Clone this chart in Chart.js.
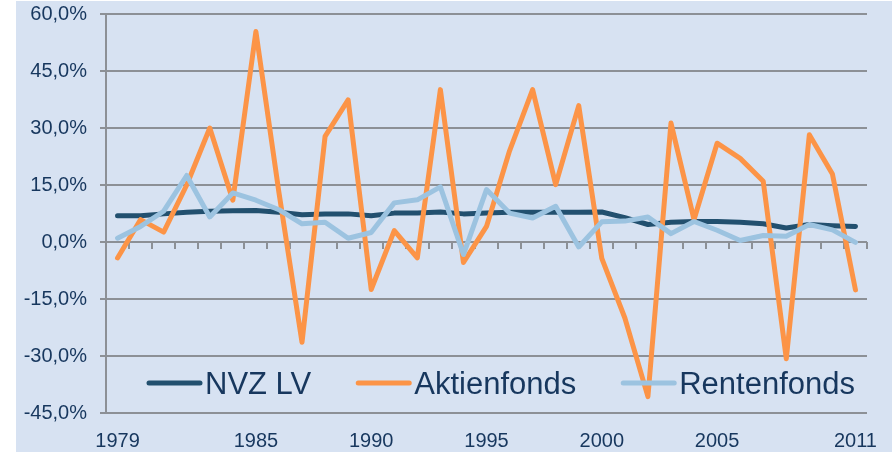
<!DOCTYPE html>
<html>
<head>
<meta charset="utf-8">
<script src="https://cdn.jsdelivr.net/npm/chart.js@4.4.1/dist/chart.umd.min.js"></script>
<style>
  html, body { margin: 0; padding: 0; background: #ffffff; }
  #wrap { width: 892px; height: 452px; }
</style>
</head>
<body>
<div id="wrap"><canvas id="myChart" width="892" height="452"></canvas></div>
<script>
const years = [1979, 1980, 1981, 1982, 1983, 1984, 1985, 1986, 1987, 1988, 1989,
               1990, 1991, 1992, 1993, 1994, 1995, 1996, 1997, 1998, 1999, 2000,
               2001, 2002, 2003, 2004, 2005, 2006, 2007, 2008, 2009, 2010, 2011];
const shownYears = [1979, 1985, 1990, 1995, 2000, 2005, 2011];

const nvzLV = [6.9, 6.9, 7.4, 7.8, 8.1, 8.2, 8.3, 7.8, 7.2, 7.4, 7.4,
               6.9, 7.6, 7.6, 7.9, 7.4, 7.6, 7.8, 7.8, 7.8, 7.8, 7.9,
               6.4, 4.6, 5.2, 5.4, 5.4, 5.2, 4.8, 3.7, 4.6, 4.3, 4.1];
const aktienfonds = [-4.2, 5.9, 2.6, 15.0, 30.0, 11.0, 55.4, 13.0, -26.4, 27.8, 37.4,
                     -12.5, 3.0, -4.2, 40.1, -5.4, 4.1, 24.0, 40.1, 15.1, 35.9, -4.3,
                     -20.0, -40.7, 31.3, 5.9, 26.0, 22.0, 16.0, -30.7, 28.2, 17.9, -12.6];
const rentenfonds = [1.0, 4.1, 8.1, 17.5, 6.6, 12.9, 11.0, 8.5, 4.8, 5.2, 1.0,
                     2.5, 10.3, 11.1, 14.5, -3.3, 13.8, 7.6, 6.3, 9.4, -1.3, 5.3,
                     5.5, 6.6, 2.2, 5.4, 3.1, 0.4, 1.7, 1.5, 4.6, 3.2, -0.1];

const yTicks = { min: -45, max: 60, step: 15 };

const fontFamily = "'Liberation Sans', Arial, sans-serif";
const textColor = '#17375E';
const gridColor = '#8C9096';

function formatPercent(v) {
    return v.toFixed(1).replace('.', ',') + '%';
}

const backgroundPlugin = {
    id: 'background',
    beforeDraw(chart) {
        const ctx = chart.ctx;
        ctx.save();
        ctx.fillStyle = '#D7E2F2';
        ctx.fillRect(16, 1, chart.width - 16, chart.height - 1);
        ctx.restore();
    }
};

// kleine Striche an der Nulllinie zwischen den Jahren
const zeroTicksPlugin = {
    id: 'zeroTicks',
    beforeDatasetsDraw(chart) {
        const xs = chart.scales.x;
        const ys = chart.scales.y;
        const y0 = ys.getPixelForValue(0);
        const step = (xs.right - xs.left) / years.length;
        const ctx = chart.ctx;
        ctx.save();
        ctx.strokeStyle = gridColor;
        ctx.lineWidth = 2;
        ctx.beginPath();
        for (let i = 0; i <= years.length; i++) {
            const px = Math.round(xs.left + i * step);
            ctx.moveTo(px, y0);
            ctx.lineTo(px, y0 + 7);
        }
        ctx.stroke();
        ctx.restore();
    }
};

const insideLegendPlugin = {
    id: 'insideLegend',
    afterDraw(chart) {
        const ctx = chart.ctx;
        const area = chart.chartArea;
        const size = 31;
        const cy = area.bottom - 30;
        let x = area.left + 41;
        ctx.save();
        ctx.font = size + 'px ' + fontFamily;
        ctx.textBaseline = 'alphabetic';
        ctx.textAlign = 'left';
        chart.data.datasets.forEach(ds => {
            ctx.strokeStyle = ds.borderColor;
            ctx.lineWidth = 5;
            ctx.lineCap = 'round';
            ctx.beginPath();
            ctx.moveTo(x + 2, cy);
            ctx.lineTo(x + 53, cy);
            ctx.stroke();
            x += 58;
            ctx.fillStyle = textColor;
            ctx.fillText(ds.label, x, cy + size * 0.36);
            x += ctx.measureText(ds.label).width + 45;
        });
        ctx.restore();
    }
};

function lineSet(label, data, color, order) {
    return {
        label: label,
        data: data,
        borderColor: color,
        backgroundColor: color,
        borderWidth: 5,
        borderCapStyle: 'round',
        borderJoinStyle: 'round',
        pointRadius: 0,
        tension: 0,
        fill: false,
        order: order
    };
}

const ctx = document.getElementById('myChart').getContext('2d');
const myChart = new Chart(ctx, {
    type: 'line',
    data: {
        labels: years,
        datasets: [
            lineSet('NVZ LV', nvzLV, '#22506F', 3),
            lineSet('Aktienfonds', aktienfonds, '#FC9447', 2),
            lineSet('Rentenfonds', rentenfonds, '#9CC3E0', 1)
        ]
    },
    options: {
        responsive: false,
        devicePixelRatio: 1,
        animation: false,
        layout: { padding: { left: 16, right: 25, top: 14, bottom: 0 } },
        plugins: {
            legend: { display: false },
            tooltip: { enabled: false }
        },
        scales: {
            x: {
                offset: true,
                afterFit: function (scale) { scale.height = 39; },
                grid: { display: false },
                border: { display: false },
                ticks: {
                    autoSkip: false,
                    maxRotation: 0,
                    padding: 8,
                    color: textColor,
                    font: { family: fontFamily, size: 20 },
                    callback: function (v, i) {
                        return shownYears.includes(years[i]) ? String(years[i]) : '';
                    }
                }
            },
            y: {
                min: yTicks.min,
                max: yTicks.max,
                afterFit: function (scale) {
                    scale.width = 90;
                    scale.paddingTop = 0;
                    scale.paddingBottom = 0;
                },
                ticks: {
                    stepSize: yTicks.step,
                    padding: 13,
                    color: textColor,
                    font: { family: fontFamily, size: 20 },
                    callback: formatPercent
                },
                grid: { color: gridColor, lineWidth: 2, tickLength: 6 },
                border: { display: true, color: gridColor, width: 2 }
            }
        }
    },
    plugins: [backgroundPlugin, zeroTicksPlugin, insideLegendPlugin]
});
</script>
</body>
</html>
